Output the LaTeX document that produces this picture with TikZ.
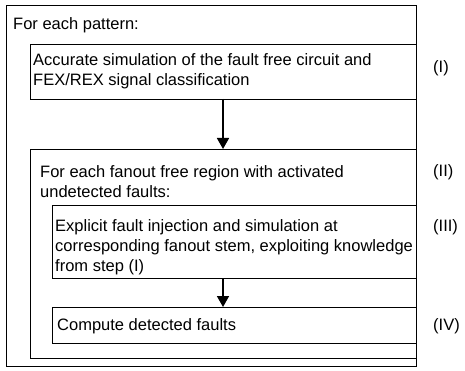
\documentclass[tikz,border=0pt]{standalone}
\usepackage{fontspec}
\setmainfont{Liberation Sans}
\usetikzlibrary{arrows.meta}
\begin{document}
\begin{tikzpicture}[x=1pt,y=-1pt,
  box/.style={draw=black, line width=0.9pt, inner sep=0pt, outer sep=0pt, anchor=north west},
  txt/.style={anchor=base west, inner sep=0pt, align=left, font=\fontsize{16.5}{20}\selectfont},
  lbl/.style={anchor=base west, inner sep=0pt, font=\fontsize{16.5}{20}\selectfont},
  flow/.style={-{Triangle[length=11pt,width=12pt]}, line width=1.7pt}]
\useasboundingbox (0,0) rectangle (465,371);
% boxes
\node[box, minimum width=410pt, minimum height=361pt] (outer) at (6,5) {};
\node[box, minimum width=386pt, minimum height=55pt] (b1) at (30,44) {};
\node[box, minimum width=386pt, minimum height=209pt] (b2) at (30,149) {};
\node[box, minimum width=364pt, minimum height=73pt] (b3) at (52,205) {};
\node[box, minimum width=364pt, minimum height=36pt] (b4) at (52,307) {};
% texts (base anchor = baseline of last line)
\node[txt] (t0) at (13,30) {For each pattern:};
\node[txt] (t1) at (33,86) {Accurate simulation of the fault free circuit and\\FEX/REX signal classification};
\node[txt] (t2) at (40,197) {For each fanout free region with activated\\undetected faults:};
\node[txt] (t3) at (55,271) {Explicit fault injection and simulation at\\corresponding fanout stem, exploiting knowledge\\from step (I)};
\node[txt] (t4) at (57,330) {Compute detected faults};
% labels
\node[lbl] (l1) at (433,73) {(I)};
\node[lbl] (l2) at (433,177) {(II)};
\node[lbl] (l3) at (433,231) {(III)};
\node[lbl] (l4) at (433,330) {(IV)};
% arrows
\draw[flow] (b1.south) -- (b2.north);
\draw[flow] (b3.south -| b1.south) -- (b4.north -| b1.south);
\end{tikzpicture}
\end{document}
